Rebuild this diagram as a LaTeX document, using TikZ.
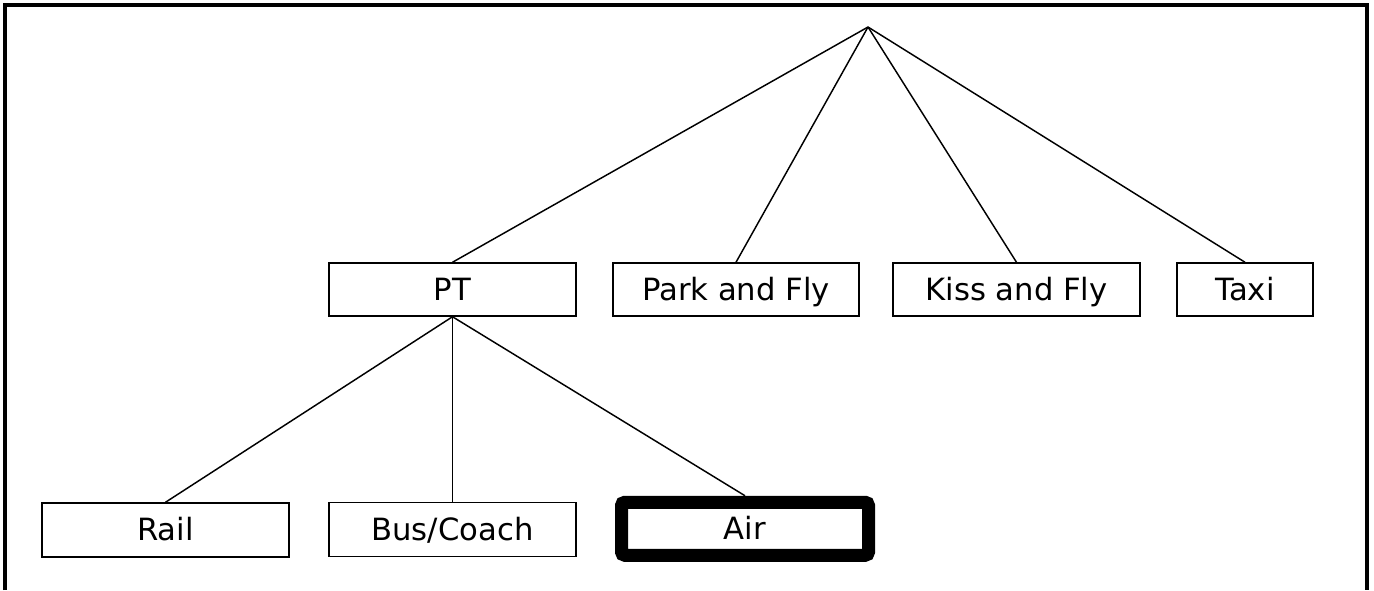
\documentclass[tikz,border=0pt]{standalone}
\usepackage{fontspec}
\setmainfont{DejaVu Sans}
\usepackage{tikz}

\tikzset{
	modebox/.style={draw, line width=1.1pt, inner sep=0pt, minimum width=185.25pt, minimum height=39.75pt, text height=16.6pt, text depth=0.2pt, font=\fontsize{23}{26}\selectfont},
	chosenbox/.style={modebox, line width=9.75pt, rounded corners=2.5pt},
	branch/.style={line width=1.1pt}
}

\begin{document}
\begin{tikzpicture}[x=0.75pt, y=-0.75pt]
		\useasboundingbox (0, 0) rectangle (1374, 590);
		% frame, open at the bottom
		\draw[line width=2.4pt] (5, 590) -- (5, 5) -- (1367, 5) -- (1367, 590);
		\coordinate (root) at (868, 27);
		% first level
		\node[modebox] (pt) at (452.5, 289.5) {PT};
		\node[modebox, minimum width=184.5pt] (park) at (736, 289.5) {Park and Fly};
		\node[modebox] (kiss) at (1016.5, 289.5) {Kiss and Fly};
		\node[modebox, minimum width=102pt] (taxi) at (1245, 289.5) {Taxi};
		% second level
		\node[modebox, minimum height=40.5pt] (rail) at (165.5, 530) {Rail};
		\node[modebox, minimum height=40.5pt] (bus) at (452.5, 529.5) {Bus/Coach};
		\node[chosenbox] (air) at (745, 528.75) {Air};
		% branches
		\draw[branch] (root) -- (pt.north);
		\draw[branch] (root) -- (park.north);
		\draw[branch] (root) -- (kiss.north);
		\draw[branch] (root) -- (taxi.north);
		\draw[branch] (pt.south) -- (rail.north);
		\draw[branch] (pt.south) -- (bus.north);
		\draw[branch] (pt.south) -- (air.north);
\end{tikzpicture}
\end{document}
